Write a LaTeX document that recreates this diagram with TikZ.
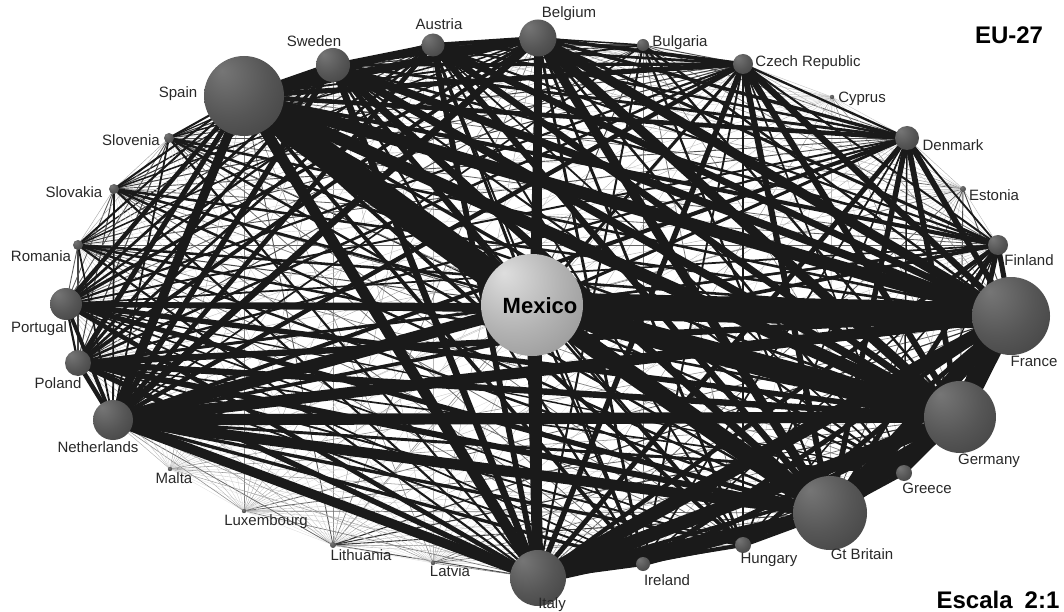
\documentclass[tikz,border=0pt]{standalone}
\usepackage{fontspec}
\setmainfont{Liberation Sans}
\usetikzlibrary{positioning}
\definecolor{edgeblack}{RGB}{26,26,26}
\definecolor{labelgray}{RGB}{40,40,40}
\definecolor{balltop}{RGB}{118,118,118}
\definecolor{ballbody}{RGB}{86,86,86}
\definecolor{ballrim}{RGB}{56,56,56}
\definecolor{hubtop}{RGB}{222,222,222}
\definecolor{hubbody}{RGB}{178,178,178}
\definecolor{hubrim}{RGB}{132,132,132}

\pgfdeclareradialshading{darkball}{\pgfpoint{-14bp}{16bp}}{color(0bp)=(balltop); color(24bp)=(ballbody); color(52bp)=(ballrim); color(72bp)=(ballrim)}
\pgfdeclareradialshading{lightball}{\pgfpoint{-14bp}{16bp}}{color(0bp)=(hubtop); color(24bp)=(hubbody); color(52bp)=(hubrim); color(72bp)=(hubrim)}

\pgfdeclarelayer{thin}
\pgfdeclarelayer{thick}
\pgfsetlayers{thin,thick,main}

\tikzset{
  link/.style={draw=edgeblack, line cap=butt},
  sphere/.style={circle, inner sep=0pt, shading=darkball},
  hubsphere/.style={circle, inner sep=0pt, shading=lightball},
  country/.style={text=labelgray, font=\fontsize{15}{17}\selectfont, inner sep=0pt, text height=10.8pt, text depth=3pt},
  title/.style={font=\bfseries\fontsize{24}{28}\selectfont, inner sep=0pt}
}

% name/x/y/radius/weight/width to Mexico
\newcommand{\eulist}{spain/244/96/40/8/28, sweden/333/65/17/5/5, austria/433/45/11.5/4.2/3,
  belgium/538/38/18.5/6/5, bulgaria/643/45/6/1.5/1, czech/743/64/10/4/3,
  cyprus/832/97/2.2/0.35/0.3, denmark/907/138/12/3.6/3, estonia/963/189/3/0.6/0.5,
  finland/998/245/10/3.2/2.5, france/1011/316/39/10/26, germany/960/417/36/10/22,
  greece/904/473/8/2.6/2, britain/830/513/37/9.5/18, hungary/743/545/8/3/2.5,
  ireland/643/564/7/3/2.5, italy/538/578/28/8.5/11, latvia/433/563/2.2/0.45/0.4,
  lithuania/333/545/3/0.7/0.6, luxembourg/244/511/2.2/0.5/0.5, malta/170/469/2.2/0.35/0.3,
  netherlands/113/420/20/7/12, poland/78/363/13/4/3, portugal/66/304/16/3.4/4,
  romania/78/245/5/1.6/1, slovakia/114/189/5/1.6/1, slovenia/169/138/5/1.6/1.2}

\newcommand{\linkedge}[3]{%
  \pgfmathsetmacro\edgetone{min(100,10+70*#3)}%
  \pgfmathsetmacro\edgewd{max(#3,0.4)}%
  \ifdim #3pt<1.3pt
    \begin{pgfonlayer}{thin}\draw[link, line width=\edgewd pt, draw=edgeblack!\edgetone] (#1.center) -- (#2.center);\end{pgfonlayer}%
  \else
    \begin{pgfonlayer}{thick}\draw[link, line width=\edgewd pt] (#1.center) -- (#2.center);\end{pgfonlayer}%
  \fi}

\begin{document}
\begin{tikzpicture}[x=1pt, y=-1pt]
        \useasboundingbox (0,0) rectangle (1064,612);

        % nodes %
        \node[hubsphere, minimum size=102pt] (mexico) at (532,305) {};
        \foreach \n/\x/\y/\r/\w/\m in \eulist {
          \node[sphere, minimum size=2*\r pt] (\n) at (\x,\y) {};
        }
        \node[font=\bfseries\fontsize{22}{26}\selectfont, inner sep=0pt] (mexicolbl) at (540,306) {Mexico};

        % labels %
        \foreach \n/\x/\y/\t in {spain/178/94/Spain, sweden/314/43/Sweden, austria/439/26/Austria,
          belgium/569/14/Belgium, bulgaria/680/43/Bulgaria, czech/808/63/Czech Republic,
          cyprus/862/99/Cyprus, denmark/953/147/Denmark, estonia/994/197/Estonia,
          finland/1029/262/Finland, france/1034/363/France, germany/989/461/Germany,
          greece/927/490/Greece, britain/862/556/Gt Britain, hungary/769/560/Hungary,
          ireland/667/582/Ireland, italy/552/605/Italy, latvia/450/573/Latvia,
          lithuania/361/557/Lithuania, luxembourg/266/522/Luxembourg, malta/174/480/Malta,
          netherlands/98/449/Netherlands, poland/58/385/Poland, portugal/39/329/Portugal,
          romania/41/258/Romania, slovakia/74/194/Slovakia, slovenia/131/142/Slovenia} {
          \node[country] (\n lbl) at (\x,\y) {\t};
        }
        \node[title] (eu) at (1009,35) {EU-27};
        \node[title] (scale) at (998,600) {Escala\enspace 2:1};

        % edges %
        \foreach \n/\x/\y/\r/\w/\m in \eulist {
          \linkedge{mexico}{\n}{\m}
        }
        \foreach \a/\xa/\ya/\ra/\wa/\ma [count=\i] in \eulist {
          \foreach \b/\xb/\yb/\rb/\wb/\mb [count=\j] in \eulist {
            \ifnum\j>\i
              \pgfmathsetmacro\lw{0.16*\wa*\wb}
              \linkedge{\a}{\b}{\lw}
            \fi
          }
        }
\end{tikzpicture}
\end{document}
